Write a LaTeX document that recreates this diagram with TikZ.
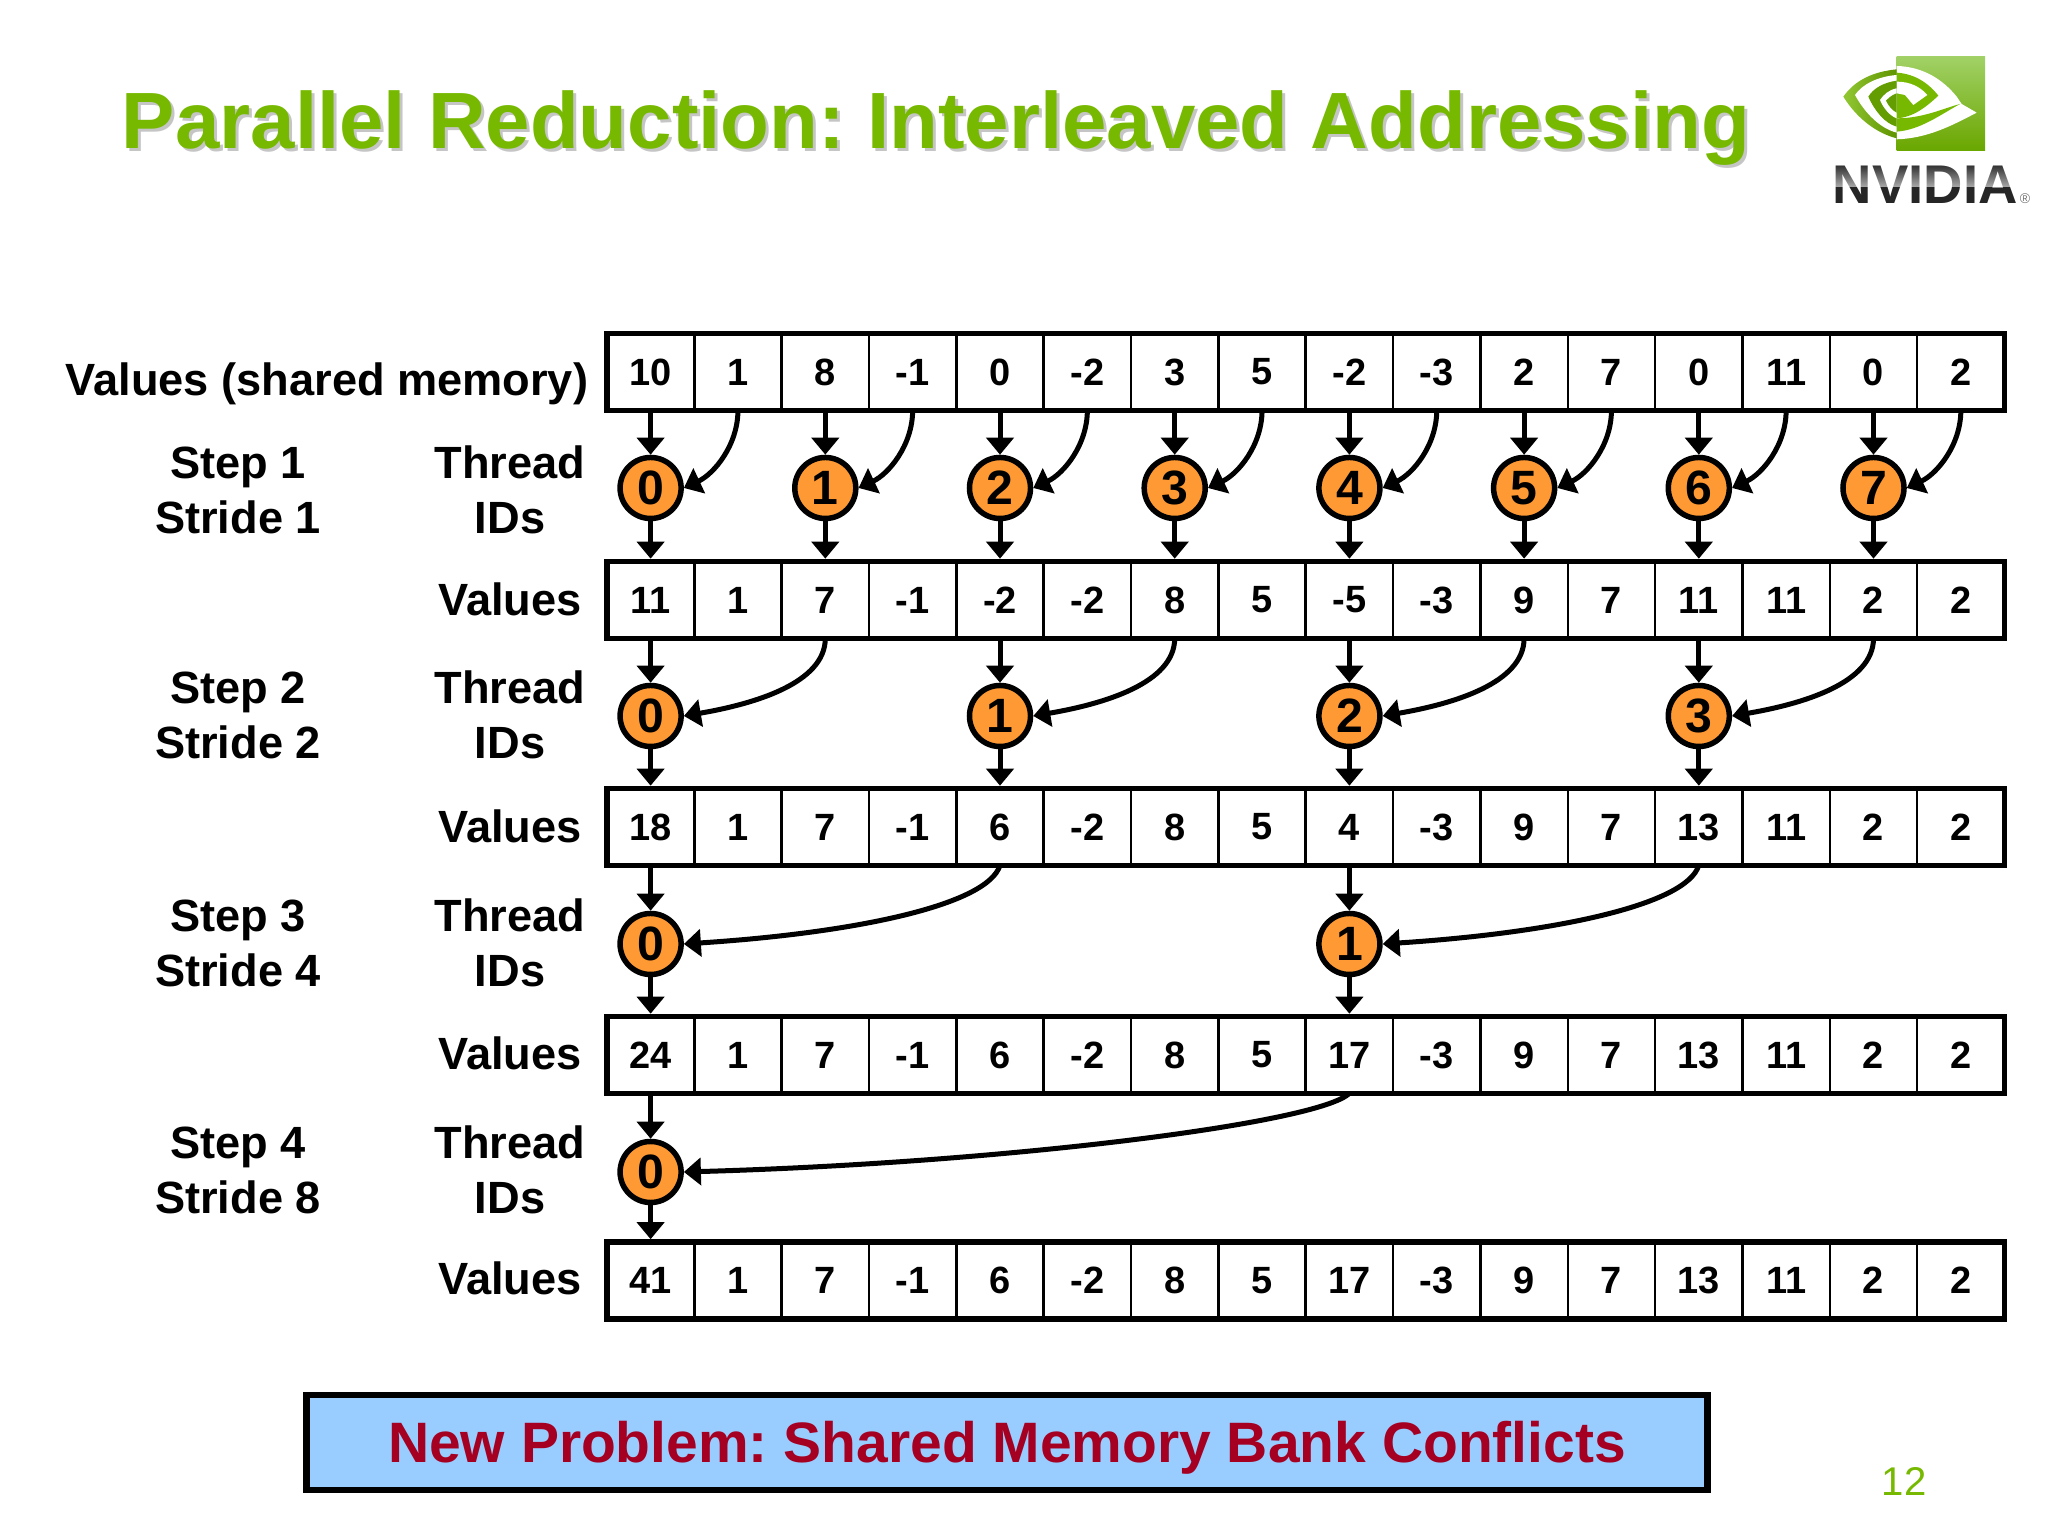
\documentclass[tikz,border=0pt]{standalone}
\usepackage{fontspec}
\setmainfont{Liberation Sans}
\usetikzlibrary{arrows.meta,fadings}
\definecolor{nvgreen}{HTML}{76B900}
\definecolor{thorange}{HTML}{FF9933}
\definecolor{notefill}{HTML}{99CCFF}
\definecolor{notetext}{HTML}{A50021}
\tikzset{
  cell/.style={draw,line width=0.025cm,minimum width=0.8735cm,minimum height=0.765cm,inner sep=0,outer sep=0,font=\fontsize{10.8}{13}\selectfont\bfseries},
  outline/.style={line width=0.055cm},
  thread/.style={circle,draw,line width=0.055cm,fill=thorange,minimum size=0.61cm,inner sep=0,font=\fontsize{13.7}{16}\selectfont\bfseries},
  flow/.style={line width=0.05cm,-{Triangle[length=0.17cm,width=0.27cm]}},
  flowin/.style={flow,shorten >=0.03cm},
  label/.style={align=center,inner sep=0,font=\fontsize{12.85}{15.65}\selectfont\bfseries},
  heading/.style={inner sep=0,font=\fontsize{22.7}{27}\selectfont\bfseries},
}
\frenchspacing
\begin{document}
\begin{tikzpicture}[x=0.01cm,y=0.01cm]
\useasboundingbox (0,0) rectangle (2048,1536);
% title
\node[heading,text=black!45,opacity=0.5] (titleshadow) at (939,1405) {Parallel Reduction: Interleaved Addressing};
\node[heading,text=nvgreen] (title) at (936,1408) {Parallel Reduction: Interleaved Addressing};
% logo
\begin{scope}[shift={(1780,1506)},x=0.01cm/3,y=-0.01cm/3]
\shade[top color=green!45!yellow!70!black!60!white,middle color=nvgreen!85!white,bottom color=nvgreen!90!black] (350,80) rectangle (615,362);
\fill[white] (350,108) .. controls (430,110) and (490,150) .. (530,200) -- (545,222) -- (590,248) .. controls (510,290) and (440,325) .. (350,328) -- cycle;
\fill[nvgreen] (350,128) .. controls (410,132) and (450,165) .. (475,197) .. controls (440,230) and (400,262) .. (350,265) -- cycle;
\fill[nvgreen] (350,265) .. controls (430,265) and (490,235) .. (540,222) .. controls (480,255) and (420,300) .. (350,305) -- cycle;
\fill[white] (350,155) .. controls (390,155) and (420,170) .. (442,195) -- (400,225) -- (375,195) -- (350,190) -- cycle;
\shade[left color=nvgreen!80!white,right color=nvgreen!80!black] (350,118) .. controls (280,125) and (225,150) .. (190,200) .. controls (230,265) and (290,310) .. (350,325) -- cycle;
\fill[white] (350,135) .. controls (290,140) and (245,165) .. (225,195) .. controls (255,250) and (300,295) .. (350,308) -- cycle;
\fill[nvgreen!85!black] (350,152) .. controls (310,158) and (280,175) .. (265,200) .. controls (285,245) and (315,280) .. (350,290) -- cycle;
\fill[white] (350,175) .. controls (325,180) and (310,195) .. (300,210) .. controls (310,235) and (330,258) .. (350,265) -- cycle;
\fill[nvgreen!85!black] (350,190) .. controls (335,195) and (325,205) .. (318,212) .. controls (325,228) and (338,242) .. (350,248) -- cycle;
\node[inner sep=0,text=black!85,font=\fontsize{15.5}{18}\selectfont\bfseries] (logotext) at (436,463) {NVIDIA};
\fill[white,opacity=0.6,path fading=north] (150,400) rectangle (725,470);
\node[inner sep=0,text=black!55,font=\fontsize{4}{5}\selectfont] (logomark) at (735,506) {®};
\end{scope}
% memory rows
\foreach \rownum/\rowy/\rowvals in {
  1/1164/{10,1,8,-1,0,-2,3,5,-2,-3,2,7,0,11,0,2},
  2/936/{11,1,7,-1,-2,-2,8,5,-5,-3,9,7,11,11,2,2},
  3/709/{18,1,7,-1,6,-2,8,5,4,-3,9,7,13,11,2,2},
  4/481/{24,1,7,-1,6,-2,8,5,17,-3,9,7,13,11,2,2},
  5/255.5/{41,1,7,-1,6,-2,8,5,17,-3,9,7,13,11,2,2}}{
  \foreach \val [count=\col from 0] in \rowvals
    \node[cell] (c\rownum-\col) at ({650.6+87.35*\col},\rowy) {\val};
  \draw[outline] (c\rownum-0.north west) rectangle (c\rownum-15.south east);
}
% threads and arrows, one pass per step
\foreach \stepnum/\nextrow/\stepy/\stride/\last/\ax/\ay/\bx/\by in {
  1/2/1048/1/7/0/-35/30/14,
  2/3/820/2/3/0/-45/70/12,
  3/4/592/4/1/-12/-40/170/11,
  4/5/364/8/0/-30/-30/320/9}{
  \foreach \tid in {0,...,\last}{
    \pgfmathtruncatemacro{\cola}{2*\stride*\tid}
    \pgfmathtruncatemacro{\colb}{\cola+\stride}
    \node[thread] (t\stepnum-\tid) at ({650.6+87.35*\cola},\stepy) {\tid};
    \draw[flow] (c\stepnum-\cola.south) -- (t\stepnum-\tid.north);
    \draw[flow] (c\stepnum-\colb.south) .. controls +(\ax,\ay) and +(\bx,\by) .. (t\stepnum-\tid.east);
    \draw[flowin] (t\stepnum-\tid.south) -- (c\nextrow-\cola.north);
  }
}
% labels on the left
\node[label] (lmem) at (327,1152) {Values (shared memory)};
\foreach \stepnum/\stride/\stepy in {1/1/1046,2/2/821,3/4/593,4/8/366}{
  \node[label] (lstep\stepnum) at (238,\stepy) {Step \stepnum\\Stride \stride};
  \node[label] (lthread\stepnum) at (510,\stepy) {Thread\\IDs};
}
\foreach \rownum/\rowy in {2/937,3/710,4/483,5/258}
  \node[label] (lval\rownum) at (510,\rowy) {Values};
% note and page number
\node[draw,line width=0.062cm,fill=notefill,minimum width=14cm,minimum height=0.95cm,inner sep=0,text height=0.42cm,text depth=0.026cm,text=notetext,font=\fontsize{16.2}{20}\selectfont\bfseries] (note) at (1007,93.5) {New Problem: Shared Memory Bank Conflicts};
\node[inner sep=0,text=nvgreen,font=\fontsize{11.4}{14}\selectfont] (pageno) at (1904,54) {12};
\end{tikzpicture}
\end{document}
